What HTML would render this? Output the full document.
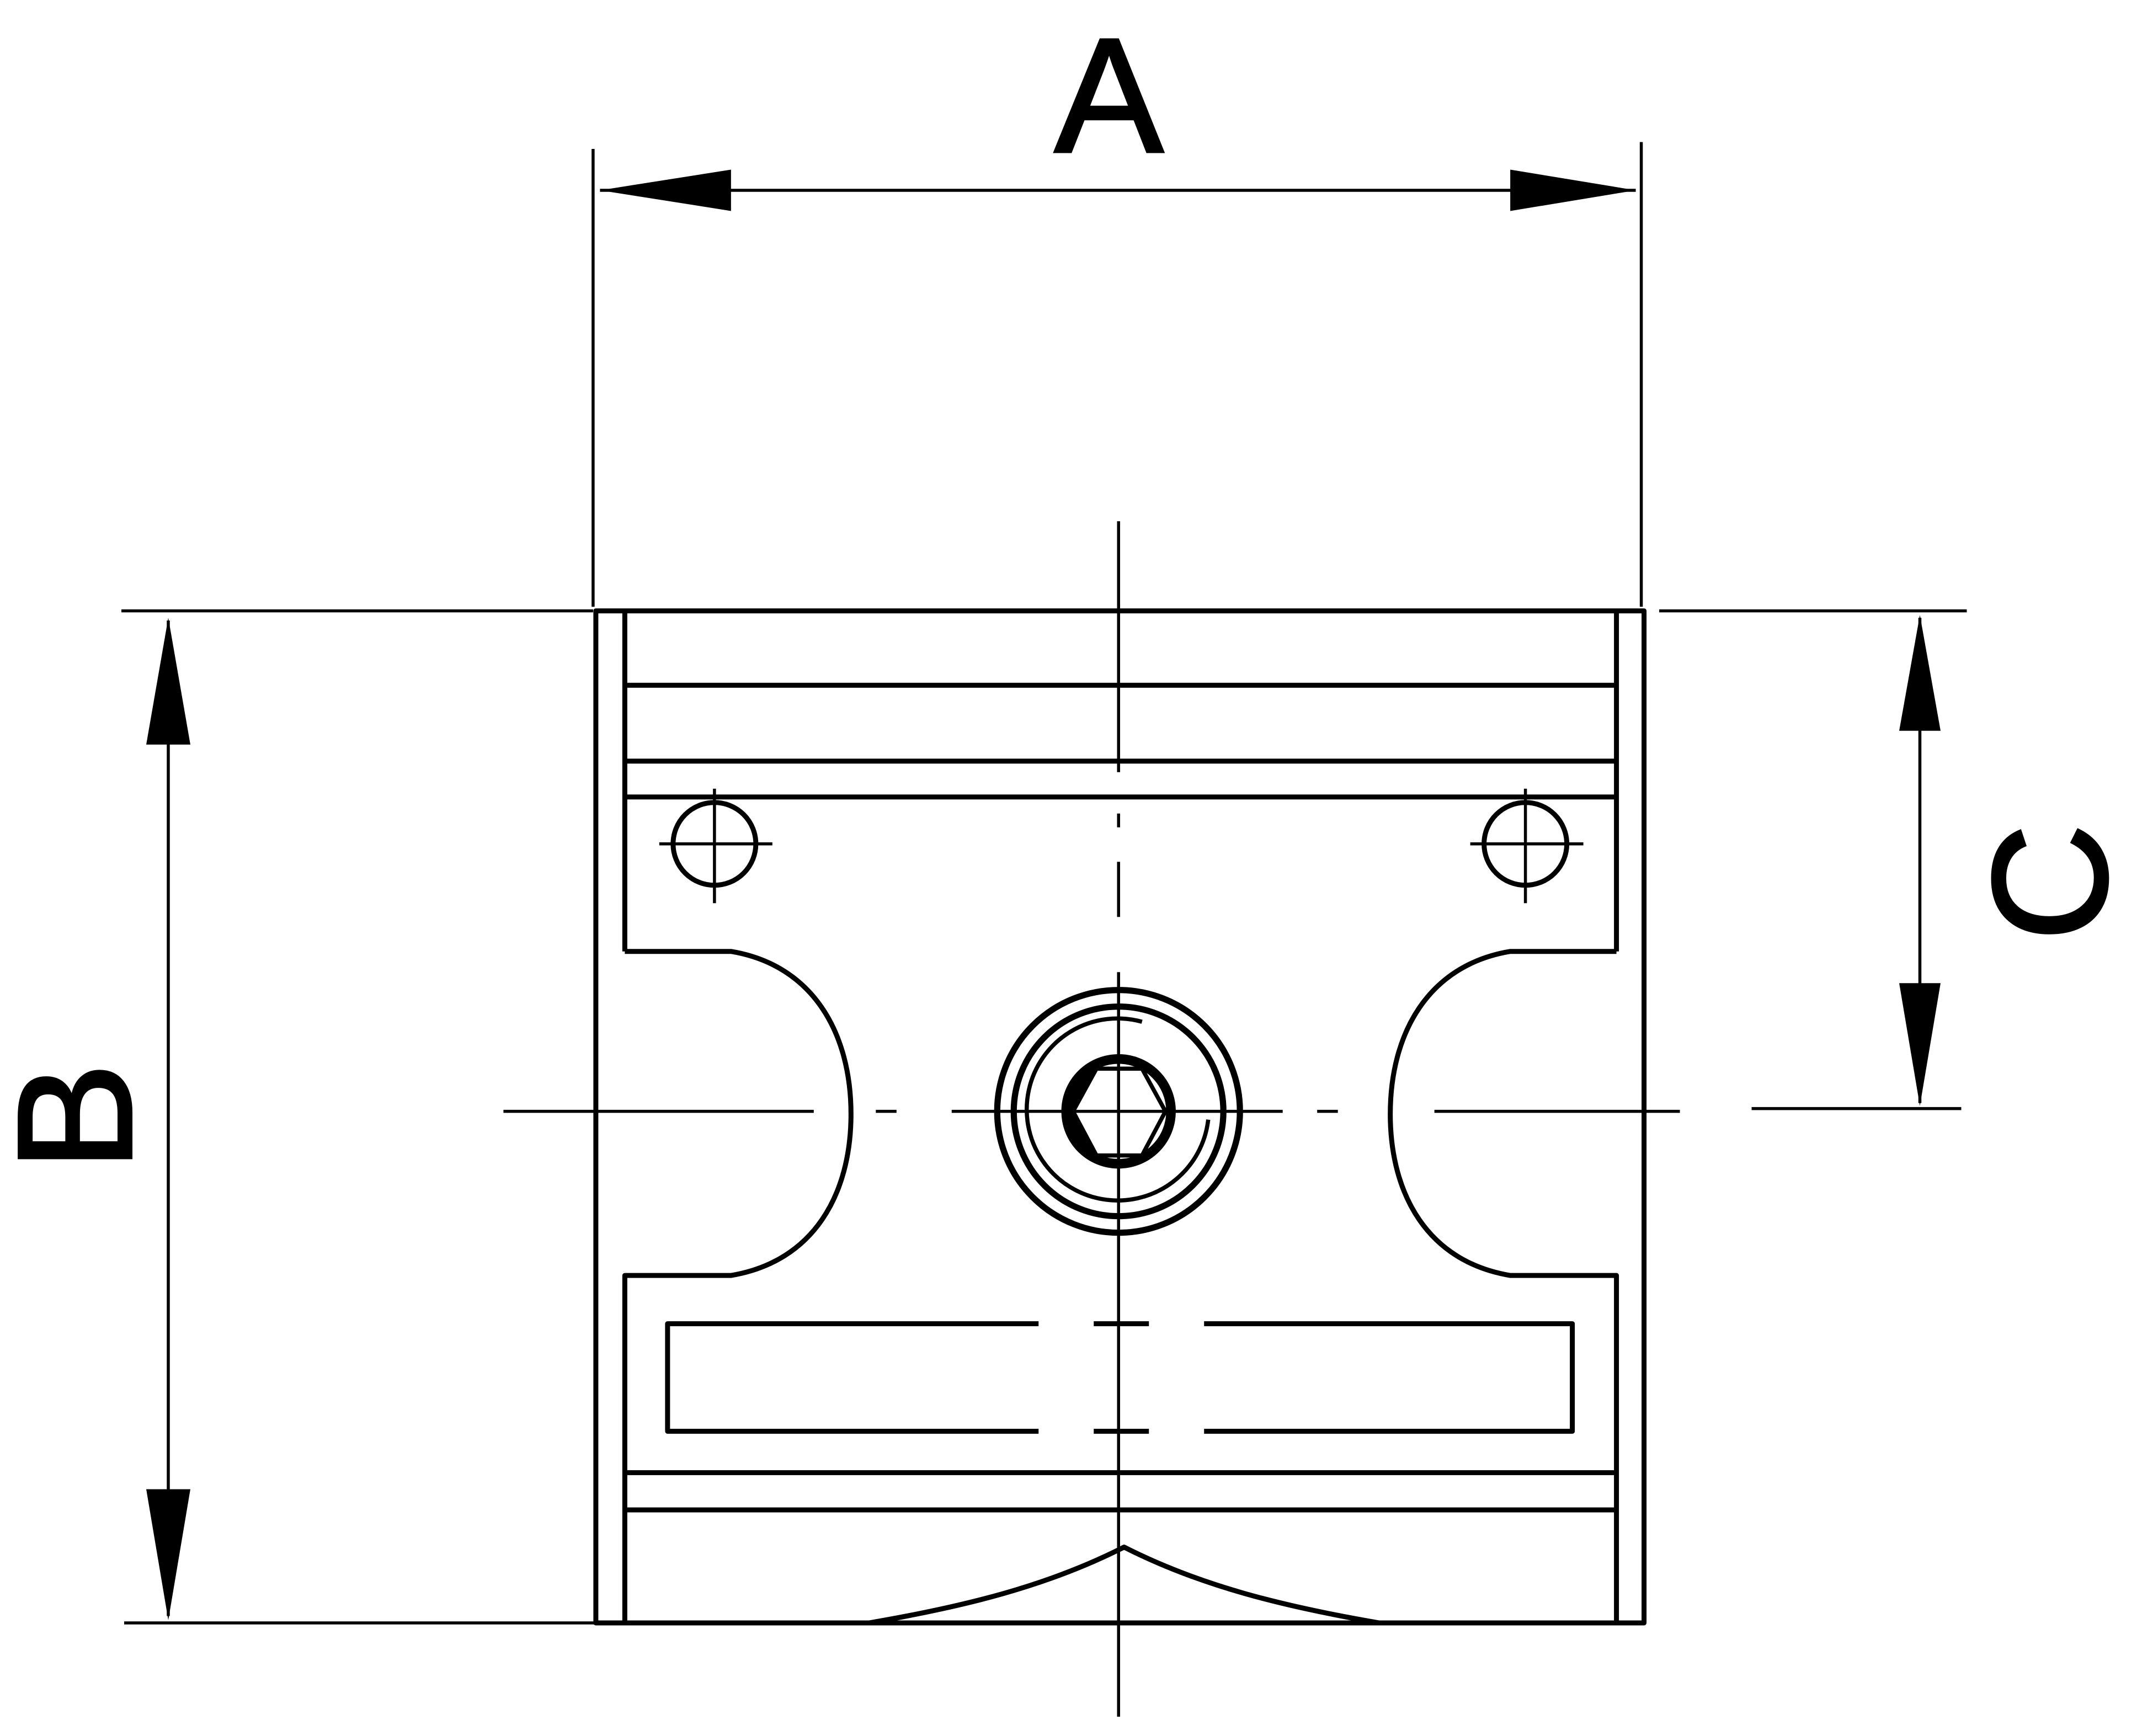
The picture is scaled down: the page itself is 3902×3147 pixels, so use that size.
<!DOCTYPE html>
<html><head><meta charset="utf-8"><style>html,body{margin:0;padding:0;background:#fff}svg{display:block}</style></head><body>
<svg width="3902" height="3147" viewBox="0 0 1561 1259" xmlns="http://www.w3.org/2000/svg">
<g fill="none" stroke="#000" stroke-width="3.6" stroke-linejoin="round">
<line x1="430" y1="108" x2="430" y2="440" stroke-width="2.2"/>
<line x1="1190" y1="103" x2="1190" y2="440" stroke-width="2.2"/>
<line x1="435" y1="138" x2="1186" y2="138" stroke-width="2.2"/>
<line x1="88" y1="443" x2="430" y2="443" stroke-width="2.2"/>
<line x1="90" y1="1177" x2="432" y2="1177" stroke-width="2.2"/>
<line x1="122" y1="450" x2="122" y2="1172" stroke-width="2.2"/>
<line x1="1203" y1="443" x2="1426" y2="443" stroke-width="2.2"/>
<line x1="1270" y1="804" x2="1422" y2="804" stroke-width="2.2"/>
<line x1="1392" y1="448" x2="1392" y2="800" stroke-width="2.2"/>
<rect x="432" y="443" width="760" height="734"/>
<line x1="453" y1="443" x2="453" y2="690"/>
<line x1="1172" y1="443" x2="1172" y2="690"/>
<line x1="453" y1="497" x2="1172" y2="497"/>
<line x1="453" y1="552" x2="1172" y2="552"/>
<line x1="453" y1="578" x2="1172" y2="578"/>
<path d="M453 690 H530 C590 700 617 750 617 808 C617 866 590 915 530 925 H453 V1177"/>
<path d="M1172 690 H1095 C1035 700 1008 750 1008 808 C1008 866 1035 915 1095 925 H1172 V1177"/>
<line x1="453" y1="1068" x2="1172" y2="1068"/>
<line x1="453" y1="1095" x2="1172" y2="1095"/>
<path d="M753 960 H484 V1038 H753"/>
<path d="M873 960 H1140 V1038 H873"/>
<line x1="793" y1="960" x2="833" y2="960"/>
<line x1="793" y1="1038" x2="833" y2="1038"/>
<path d="M630 1177 C700 1165 760 1150 815 1122 C870 1150 930 1165 1000 1177"/>
<circle cx="518" cy="612" r="30"/>
<circle cx="1106" cy="612" r="30"/>
<g stroke-width="2.2">
<line x1="478" y1="612" x2="560" y2="612"/><line x1="518" y1="572" x2="518" y2="655"/>
<line x1="1066" y1="612" x2="1148" y2="612"/><line x1="1106" y1="572" x2="1106" y2="655"/>
</g>
<circle cx="811" cy="806" r="88" stroke-width="4.5"/>
<circle cx="811" cy="806" r="76" stroke-width="4.5"/>
<path d="M828 741 A66 66 0 1 0 876 812" stroke-width="3"/>
<circle cx="811" cy="806" r="38" stroke-width="7"/>
<path d="M795 772 C778 778 772 795 772 806 C772 818 778 836 795 840 L778 806 Z" fill="#000" stroke="none"/>
<path d="M795 775 H828 L845 806 L828 838 H795 L778 806 Z" fill="#fff" stroke-width="3"/>
<g stroke-width="2.2">
<path d="M811 378 V560 M811 590 V600 M811 625 V665 M811 705 V1245"/>
<path d="M365 806 H590 M635 806 H650 M690 806 H930 M955 806 H970 M1040 806 H1218"/>
</g>
</g>
<g fill="#000">
<polygon points="435,138 530,123 530,153"/>
<polygon points="1186,138 1095,123 1095,153"/>
<polygon points="122,448 106,540 138,540"/>
<polygon points="122,1175 106,1080 138,1080"/>
<polygon points="1392,446 1377,530 1407,530"/>
<polygon points="1392,802 1377,713 1407,713"/>
</g>
<g font-family="Liberation Sans, sans-serif" font-size="118" fill="#000" stroke="#000" stroke-width="2" text-anchor="middle">
<text x="804" y="110">A</text>
<text transform="translate(95,810) rotate(-90)">B</text>
<text transform="translate(1527,640) rotate(-90)">C</text>
</g>
</svg>
</body></html>
